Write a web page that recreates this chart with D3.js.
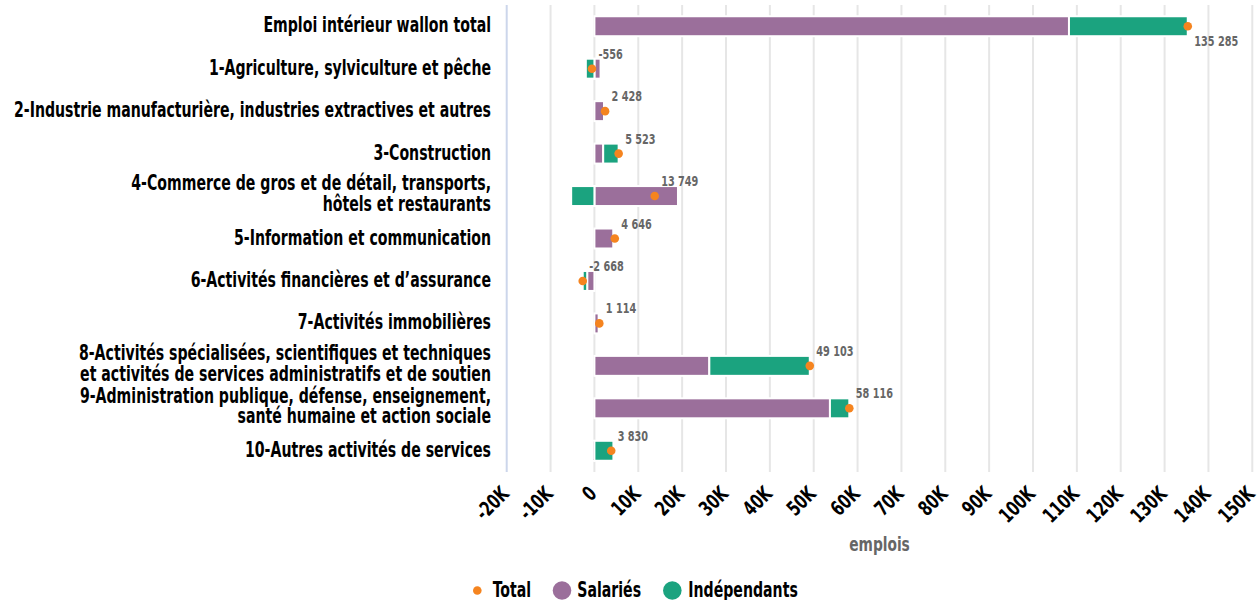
<!DOCTYPE html>
<html>
<head>
<meta charset="utf-8">
<script src="https://cdn.jsdelivr.net/npm/d3@7"></script>
<style>
  html, body { margin: 0; padding: 0; background: #fff; }
  svg { display: block; }
  text { font-family: "Liberation Sans Narrow", "DejaVu Sans Condensed", "Arial Narrow", sans-serif; font-weight: bold; }
</style>
</head>
<body>
<svg id="chart" width="1258" height="600"></svg>
<script>
// ---- data ----
const categories = [
  ["Emploi intérieur wallon total"],
  ["1-Agriculture, sylviculture et pêche"],
  ["2-Industrie manufacturière, industries extractives et autres"],
  ["3-Construction"],
  ["4-Commerce de gros et de détail, transports,", "hôtels et restaurants"],
  ["5-Information et communication"],
  ["6-Activités financières et d’assurance"],
  ["7-Activités immobilières"],
  ["8-Activités spécialisées, scientifiques et techniques", "et activités de services administratifs et de soutien"],
  ["9-Administration publique, défense, enseignement,", "santé humaine et action sociale"],
  ["10-Autres activités de services"]
];
const salaries     = [108200, 1400, 2200, 2000, 19050, 4350, -1650, 1000, 26200, 53700, -500];
const independants = [27085, -1956, 228, 3523, -5301, 296, -1018, 114, 22903, 4416, 4330];
const totals       = [135285, -556, 2428, 5523, 13749, 4646, -2668, 1114, 49103, 58116, 3830];
const xTicks = [-20000, -10000, 0, 10000, 20000, 30000, 40000, 50000, 60000, 70000, 80000, 90000, 100000, 110000, 120000, 130000, 140000, 150000];
const seriesNames = ["Salariés", "Indépendants"];
const legendNames = ["Total", "Salariés", "Indépendants"];

// ---- layout ----
const colors = { "Salariés": "#9b6f9b", "Indépendants": "#1ba37f", "Total": "#f5841f" };
const plot = { left: 506.7, right: 1252.3, top: 5, bottom: 472 };
const SX = 0.765; // horizontal condensing of text

const svg = d3.select("#chart");
const x = d3.scaleLinear().domain([-20000, 150000]).range([plot.left, plot.right]);
const idx = categories.map((d, i) => i);
const y = d3.scaleBand().domain(idx).range([plot.top, plot.bottom]).paddingInner(0.53).paddingOuter(0.265);
const yc = i => y(i) + y.bandwidth() / 2;

const loc = d3.formatLocale({ decimal: ",", thousands: " ", grouping: [3], currency: ["", ""], minus: "-" });
const fmt = loc.format(",d");

// gridlines
svg.append("g").selectAll("line").data(xTicks.filter(t => t !== -20000)).join("line")
  .attr("x1", d => x(d)).attr("x2", d => x(d))
  .attr("y1", plot.top).attr("y2", plot.bottom)
  .attr("stroke", "#e6e6e6").attr("stroke-width", 2);
// category axis line
svg.append("line")
  .attr("x1", x(-20000)).attr("x2", x(-20000))
  .attr("y1", plot.top).attr("y2", plot.bottom)
  .attr("stroke", "#ccd6eb").attr("stroke-width", 2);

// stacked bars
const rows = idx.map(i => ({ i, "Salariés": salaries[i], "Indépendants": independants[i] }));
const stacked = d3.stack().keys(seriesNames).offset(d3.stackOffsetDiverging)(rows);
svg.append("g").selectAll("g").data(stacked).join("g")
  .attr("fill", s => colors[s.key])
  .selectAll("rect").data(s => s).join("rect")
  .attr("x", d => x(Math.min(d[0], d[1])))
  .attr("width", d => Math.abs(x(d[1]) - x(d[0])))
  .attr("y", d => y(d.data.i))
  .attr("height", y.bandwidth())
  .attr("stroke", "#fff").attr("stroke-width", 2);

// total dots
svg.append("g").selectAll("circle").data(idx).join("circle")
  .attr("cx", i => x(totals[i])).attr("cy", i => yc(i))
  .attr("r", 4.3).attr("fill", colors["Total"]);

// total labels
svg.append("g").selectAll("text").data(idx).join("text")
  .attr("transform", i => `translate(${x(totals[i]) + 6.5},${i === 0 ? yc(i) + 20 : yc(i) - 10}) scale(0.74,1)`)
  .attr("font-size", 14.6).attr("fill", "#666")
  .text(i => fmt(totals[i]));

// category labels
const catG = svg.append("g");
idx.forEach(i => {
  const lines = categories[i];
  const n = lines.length;
  const t = catG.append("text").attr("text-anchor", "end").attr("font-size", 20.5).attr("fill", "#000")
    .attr("transform", `translate(491,${yc(i) + 6 - (n - 1) * 1.5}) scale(${SX},1)`);
  lines.forEach((ln, k) => {
    t.append("tspan").attr("x", 0).attr("y", (k - (n - 1) / 2) * 20.3).text(ln);
  });
});

// x axis tick labels
svg.append("g").selectAll("text").data(xTicks).join("text")
  .attr("text-anchor", "end")
  .attr("transform", d => `translate(${x(d) + 3.5},495) rotate(-45) scale(0.78,1)`)
  .attr("font-size", 20.5).attr("fill", "#000")
  .text(d => d === 0 ? "0" : (d / 1000) + "K");

// axis title
svg.append("text")
  .attr("transform", `translate(${(plot.left + plot.right) / 2},551) scale(${SX},1)`)
  .attr("text-anchor", "middle").attr("font-size", 20).attr("fill", "#666")
  .text("emplois");

// legend
const legendPos = [
  { name: legendNames[0], cx: 477.3, r: 4.3, tx: 492.7 },
  { name: legendNames[1], cx: 562, r: 9.3, tx: 577.3 },
  { name: legendNames[2], cx: 672.3, r: 9.3, tx: 688.3 }
];
const lg = svg.append("g");
legendPos.forEach(p => {
  lg.append("circle").attr("cx", p.cx).attr("cy", 590.5).attr("r", p.r).attr("fill", colors[p.name]);
  lg.append("text").attr("transform", `translate(${p.tx},597) scale(${SX},1)`)
    .attr("font-size", 20.5).attr("fill", "#000").text(p.name);
});
</script>
</body>
</html>
